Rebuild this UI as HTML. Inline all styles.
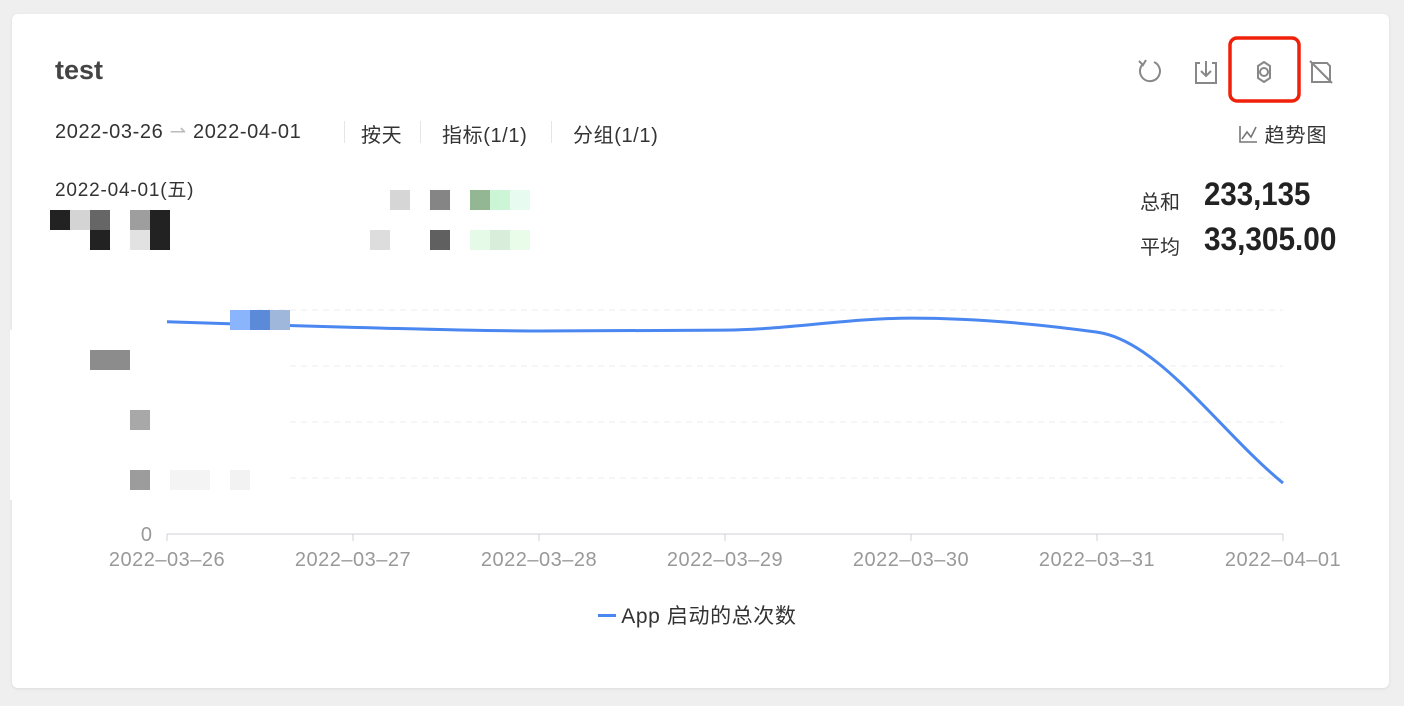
<!DOCTYPE html>
<html><head><meta charset="utf-8"><style>
body{margin:0;width:1404px;height:706px;background:#efefef;font-family:"Liberation Sans","Noto Sans CJK SC",sans-serif;overflow:hidden;position:relative}
.card{position:absolute;left:12px;top:14px;width:1377px;height:674px;background:#fff;border-radius:6px;box-shadow:0 1px 3px rgba(0,0,0,.08)}
.abs{position:absolute}
.t{color:#333;font-size:20px;letter-spacing:0.6px}
.sep{position:absolute;top:121px;width:1px;height:22px;background:#e5e5e5}
.px{position:absolute;width:20px;height:20px}
</style></head><body>
<div class="card"></div>
<div class="abs" style="left:55px;top:55px;font-size:27px;font-weight:bold;color:#444">test</div>
<div class="abs t" style="left:55px;top:119px">2022-03-26 <span style="color:#bbb">⇀</span> 2022-04-01</div>
<div class="sep" style="left:344px"></div>
<div class="abs t" style="left:361px;top:119px">按天</div>
<div class="sep" style="left:420px"></div>
<div class="abs t" style="left:442px;top:119px">指标(1/1)</div>
<div class="sep" style="left:551px"></div>
<div class="abs t" style="left:573px;top:119px">分组(1/1)</div>
<svg class="abs" style="left:1130px;top:30px" width="220" height="80">
<g fill="none" stroke="#888" stroke-width="2" transform="translate(0,25)">
<path d="M24 7 A10 10 0 1 1 13 9"/><path d="M9 6 L13 10 L16 5"/>
<g><path d="M70 8 H66 V28 H86 V8 H82"/><path d="M76 6 V21 M71 16 L76 21 L81 16"/></g>
<g><circle cx="134" cy="17" r="4"/><path d="M128 11 L134 7 L140 11 L140 23 L134 27 L128 23 Z" stroke-linejoin="round"/></g>
<g><path d="M182 8 H197 L200 11 V27 H182 Z"/><path d="M180 6 L202 28"/></g>
</g>
<rect x="100" y="8" width="69" height="63" rx="7" fill="none" stroke="#f0200a" stroke-width="3.5"/>
</svg>
<div class="abs" style="left:1238px;top:119px;font-size:20px;color:#333;letter-spacing:1px"><svg width="20" height="20" style="vertical-align:-2px"><path d="M2 2 V18 H19 M4 15 L9 8 L13 13 L18 3" fill="none" stroke="#777" stroke-width="1.6"/></svg> 趋势图</div>
<div class="abs" style="left:1140px;top:186px;font-size:20px;color:#333">总和</div>
<div class="abs" style="left:1204px;top:176px;font-size:32px;font-weight:bold;color:#222;transform:scaleX(.92);transform-origin:left">233,135</div>
<div class="abs" style="left:1140px;top:231px;font-size:20px;color:#333">平均</div>
<div class="abs" style="left:1204px;top:221px;font-size:32px;font-weight:bold;color:#222;transform:scaleX(.93);transform-origin:left">33,305.00</div>
<div class="abs" style="left:55px;top:175px;font-size:19px;color:#333;letter-spacing:0.8px">2022-04-01(五)</div>
<svg class="abs" style="left:0;top:0" width="1404" height="706" id="chart"></svg>
<div id="mosaic"></div>
<div class="abs" style="left:598px;top:600px;font-size:21px;color:#333;letter-spacing:0.6px"><span style="display:inline-block;width:18px;height:3px;background:#4a87f0;vertical-align:6px"></span> App 启动的总次数</div>
<script>
const categories=["2022–03–26","2022–03–27","2022–03–28","2022–03–29","2022–03–30","2022–03–31","2022–04–01"];
const values=[37900,36900,36250,36400,38550,36050,9100];
const yTicks=[0,10000,20000,30000,40000];
const svg=document.getElementById('chart');const NS='http://www.w3.org/2000/svg';
const x0=167,x1=1283,yb=534,ppu=56/10000;
const X=i=>x0+i*(x1-x0)/(categories.length-1);const Y=v=>yb-v*ppu;
function mk(t,a){const e=document.createElementNS(NS,t);for(const k in a)e.setAttribute(k,a[k]);svg.appendChild(e);return e;}
yTicks.forEach((v,i)=>{if(v===0){const t=mk('text',{x:152,y:Y(v)+7,'text-anchor':'end','font-size':20,fill:'#999'});t.textContent='0';

return;}
const l=mk('line',{x1:x0+90,x2:x1,y1:Y(v),y2:Y(v),stroke:'#e8ecef','stroke-dasharray':'6 5'});

});
const ax=mk('line',{x1:x0,x2:x1,y1:yb,y2:yb,stroke:'#ccd2d8'});


categories.forEach((c,i)=>{mk('line',{x1:X(i),x2:X(i),y1:yb,y2:yb+7,stroke:'#ccd2d8'});
const t=mk('text',{x:X(i),y:yb+32,'text-anchor':'middle','font-size':20,fill:'#999','letter-spacing':'0.5'});t.textContent=c;

});
// Fritsch-Carlson monotone cubic
const P=values.map((v,i)=>[X(i),Y(v)]);const n=P.length;const d=[],m=[];
for(let i=0;i<n-1;i++)d.push((P[i+1][1]-P[i][1])/(P[i+1][0]-P[i][0]));
for(let i=0;i<n;i++){if(i==0)m.push(d[0]);else if(i==n-1)m.push(d[n-2]);else m.push(d[i-1]*d[i]<=0?0:2*d[i-1]*d[i]/(d[i-1]+d[i]));}
let p='M'+P[0][0]+' '+P[0][1];
for(let i=0;i<n-1;i++){const h=(P[i+1][0]-P[i][0])/3;p+=` C${P[i][0]+h} ${P[i][1]+m[i]*h} ${P[i+1][0]-h} ${P[i+1][1]-m[i+1]*h} ${P[i+1][0]} ${P[i+1][1]}`;}
const line=mk('path',{d:p,fill:'none',stroke:'#4a87f0','stroke-width':3});


const mz=document.getElementById('mosaic');
[[10,330,280,170,'#fff'],[50,210,20,20,'#222'],[70,210,20,20,'#d4d4d4'],[90,210,20,20,'#666'],[130,210,20,20,'#9e9e9e'],[150,210,20,20,'#222'],[90,230,20,20,'#222'],[130,230,20,20,'#e2e2e2'],[150,230,20,20,'#222'],
[390,190,20,20,'#d6d6d6'],[430,190,20,20,'#858585'],[470,190,20,20,'#93b793'],[490,190,20,20,'#ccf5d6'],[510,190,20,20,'#e8fbf0'],[370,230,20,20,'#ddd'],[430,230,20,20,'#606060'],[470,230,20,20,'#e6fae8'],[490,230,20,20,'#d8eedb'],[510,230,20,20,'#e9fbe9'],
[230,310,20,20,'#8ab4fb'],[250,310,20,20,'#5a8ad8'],[270,310,20,20,'#a0b7dc'],[90,350,40,20,'#8c8c8c'],[130,410,20,20,'#a8a8a8'],[130,470,20,20,'#9c9c9c'],[170,470,40,20,'#f4f4f4'],[230,470,20,20,'#f2f2f2']].forEach(b=>{
const e=document.createElement('div');e.className='px';e.style.cssText=`left:${b[0]}px;top:${b[1]}px;width:${b[2]}px;height:${b[3]}px;background:${b[4]}`;


mz.appendChild(e);});
</script>
</body></html>
